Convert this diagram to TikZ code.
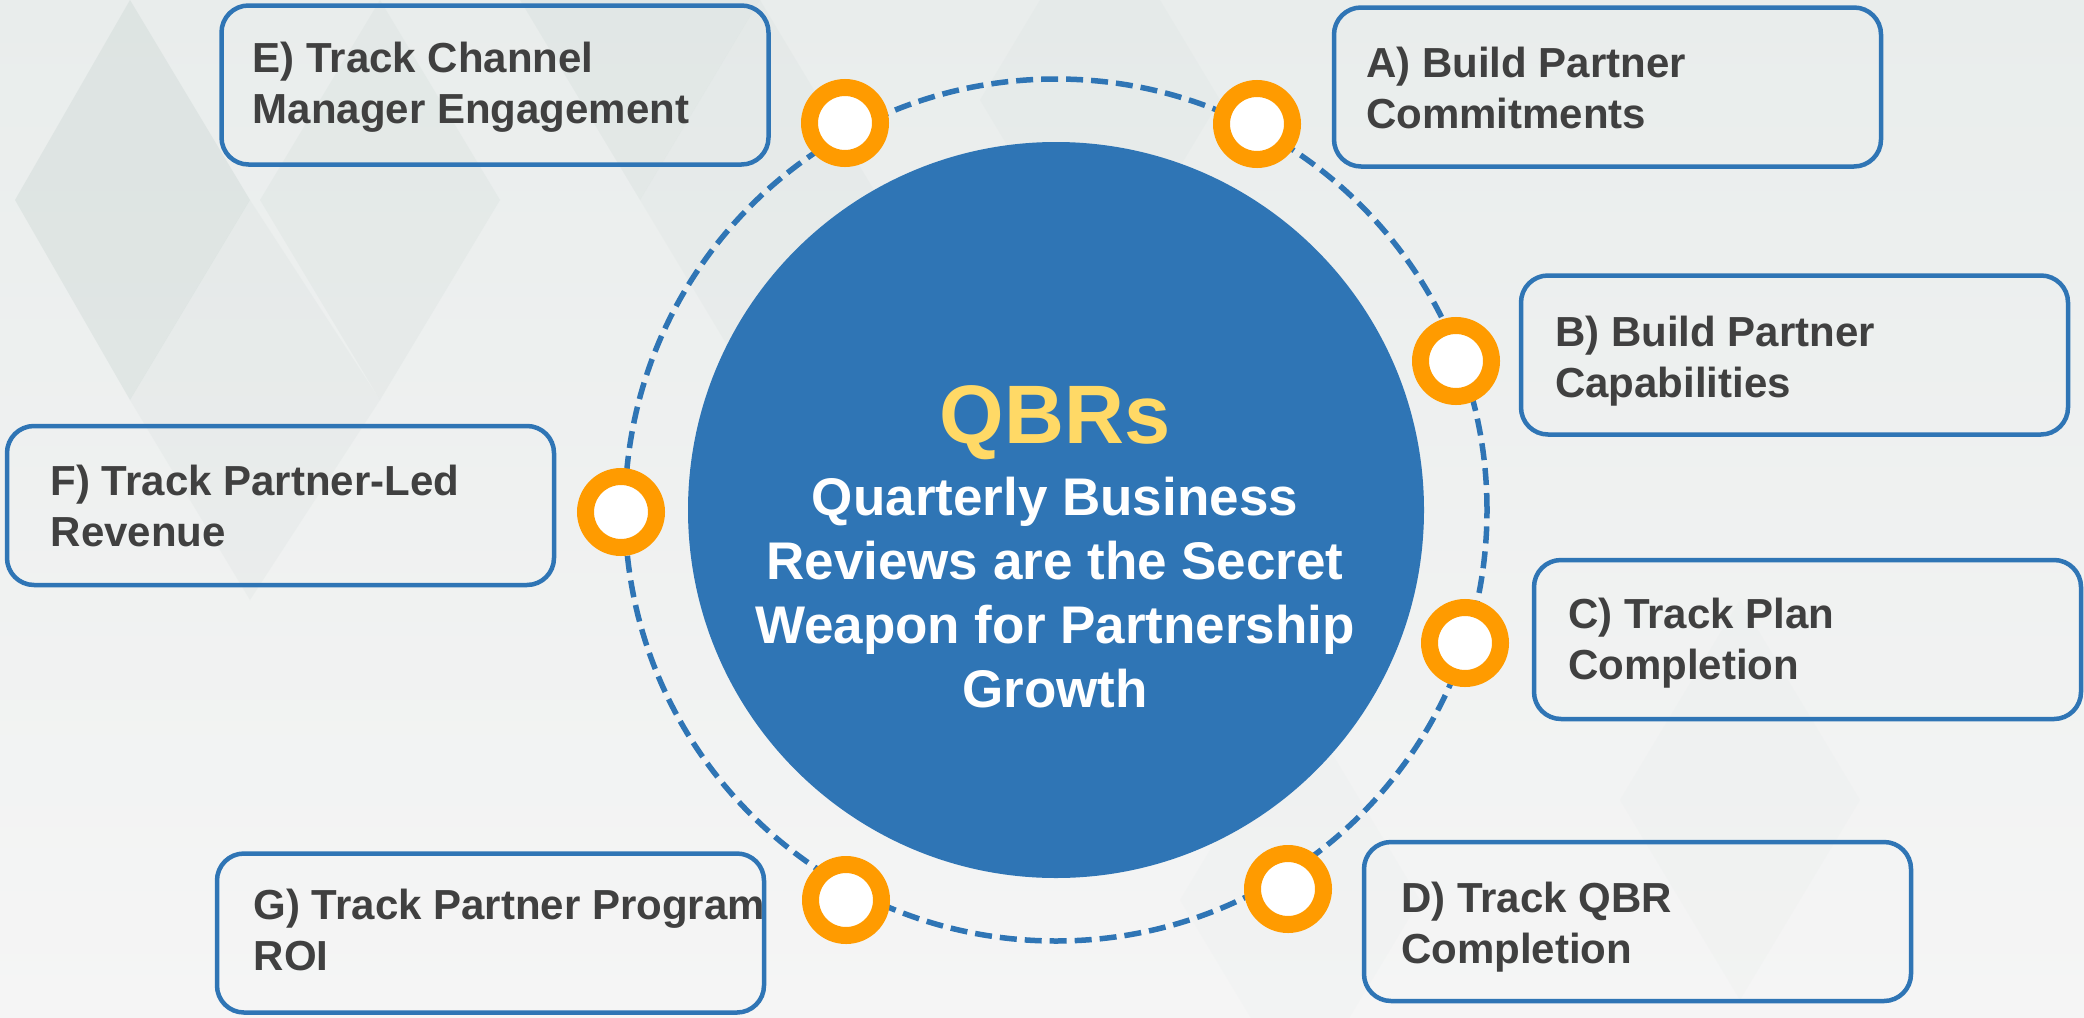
\documentclass[tikz,border=0pt]{standalone}
\usepackage{fontspec}
\setmainfont{Liberation Sans}
\usetikzlibrary{calc}
\definecolor{qblue}{RGB}{47,117,181}
\definecolor{qorange}{RGB}{255,155,0}
\definecolor{qyellow}{RGB}{255,217,102}
\definecolor{qtext}{RGB}{64,64,64}
\definecolor{bgtop}{RGB}{233,237,236}
\definecolor{bgbottom}{RGB}{245,245,245}
\definecolor{bgdark}{RGB}{200,212,209}
\begin{document}
\begin{tikzpicture}[x=1pt,y=-1pt,
  itembox/.style={draw=qblue, line width=4.5pt, rounded corners=27pt,
    minimum width=547pt, minimum height=159pt, inner sep=0pt},
  % multi-line labels are anchored on the baseline of their last line
  itemtext/.style={text=qtext, font=\bfseries\fontsize{42}{51}\selectfont,
    align=left, inner sep=0pt, anchor=base west},
  ring/.style={circle, draw=qorange, line width=17pt, fill=white,
    minimum size=71pt, inner sep=0pt},
  facet/.style={fill=bgdark}]

% canvas and soft faceted backdrop
\useasboundingbox (0,0) rectangle (2084,1017);
\shade[top color=bgtop, bottom color=bgbottom] (0,0) rectangle (2084,1017);
\fill[facet, opacity=0.35] (130,0) -- (250,200) -- (130,400) -- (15,200) -- cycle;
\fill[facet, opacity=0.18] (380,0) -- (500,200) -- (380,400) -- (260,200) -- cycle;
\fill[facet, opacity=0.22] (640,-200) -- (760,0) -- (640,200) -- (520,0) -- cycle;
\fill[facet, opacity=0.15] (250,200) -- (380,400) -- (250,600) -- (130,400) -- cycle;
\fill[facet, opacity=0.12] (760,0) -- (880,200) -- (760,400) -- (640,200) -- cycle;
\fill[facet, opacity=0.10] (1100,-100) -- (1220,100) -- (1100,300) -- (980,100) -- cycle;
\fill[facet, opacity=0.06] (1740,600) -- (1860,800) -- (1740,1000) -- (1620,800) -- cycle;
\fill[facet, opacity=0.05] (1300,700) -- (1420,900) -- (1300,1100) -- (1180,900) -- cycle;

% hub
\node[circle, fill=qblue, minimum size=736pt, inner sep=0pt] (hub) at (1056,510) {};
\draw[qblue, line width=5.5pt, dash pattern=on 17pt off 8pt] (hub.center) circle (431pt);

\node[anchor=base, inner sep=0pt, text=qyellow,
  font=\bfseries\fontsize{83}{90}\selectfont] (title) at (1055,443) {QBRs};
\node[anchor=base, inner sep=0pt, text=white, align=center,
  font=\bfseries\fontsize{53}{64}\selectfont] (subtitle) at (1055,707)
  {Quarterly Business\\Reviews are the Secret\\Weapon for Partnership\\Growth};

% markers on the orbit
\node[ring] (rE) at (845,123) {};
\node[ring] (rA) at (1257,124) {};
\node[ring] (rB) at (1456,361) {};
\node[ring] (rC) at (1465,643) {};
\node[ring] (rD) at (1288,889) {};
\node[ring] (rG) at (846,900) {};
\node[ring] (rF) at (621,512) {};

% item labels
\node[itemtext] (tE) at (252.5,123) {E) Track Channel\\Manager Engagement};
\node[itemtext] (tA) at (1366,128) {A) Build Partner\\Commitments};
\node[itemtext] (tB) at (1555,397) {B) Build Partner\\Capabilities};
\node[itemtext] (tC) at (1568,679) {C) Track Plan\\Completion};
\node[itemtext] (tD) at (1401,963) {D) Track QBR\\Completion};
\node[itemtext] (tG) at (253.5,970) {G) Track Partner Program\\ROI};
\node[itemtext] (tF) at (50.5,546) {F) Track Partner-Led\\Revenue};

% item frames
\node[itembox] (E) at (495,85) {};
\node[itembox] (A) at (1607.5,87) {};
\node[itembox] (B) at (1794.5,355) {};
\node[itembox] (C) at (1807.5,639.5) {};
\node[itembox] (D) at (1637.5,921.5) {};
\node[itembox] (G) at (490.5,933) {};
\node[itembox] (F) at (280.5,505.5) {};
\end{tikzpicture}
\end{document}
